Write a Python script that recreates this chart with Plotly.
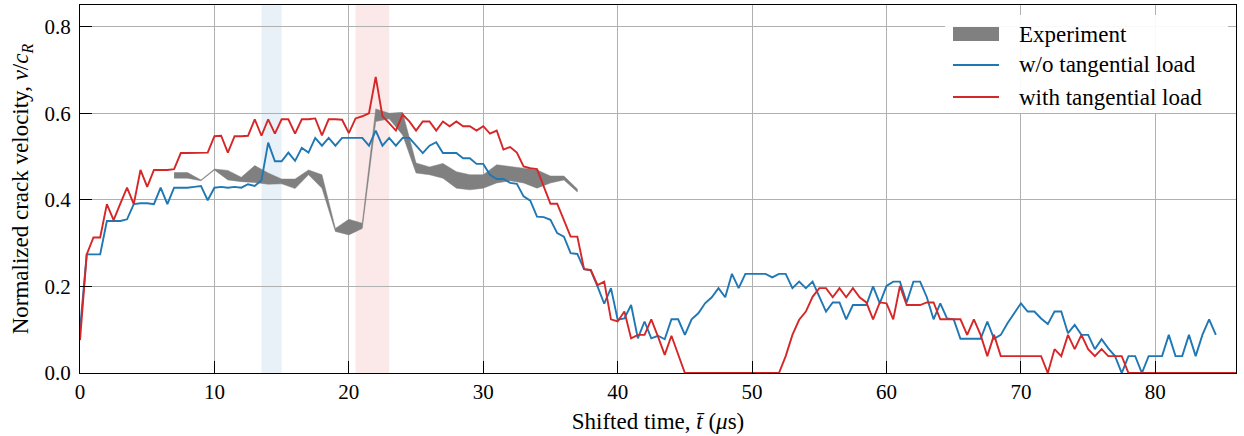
import numpy as np
import plotly.graph_objects as go

# simulation sample times (every 0.5 us)
t_red = np.arange(0, 86.01, 0.5)
t_blue = np.arange(0, 84.51, 0.5)

v_with = [
    0.076, 0.274, 0.313, 0.313, 0.390, 0.353, 0.391, 0.428, 0.390, 0.469,
    0.430, 0.469, 0.469, 0.469, 0.471, 0.508, 0.508, 0.508, 0.509, 0.509,
    0.547, 0.548, 0.509, 0.547, 0.547, 0.548, 0.586, 0.548, 0.586, 0.553,
    0.586, 0.586, 0.553, 0.586, 0.586, 0.588, 0.549, 0.586, 0.586, 0.585,
    0.554, 0.588, 0.593, 0.600, 0.684, 0.593, 0.577, 0.560, 0.597, 0.581,
    0.560, 0.581, 0.581, 0.560, 0.581, 0.570, 0.581, 0.570, 0.570, 0.560,
    0.570, 0.553, 0.560, 0.516, 0.522, 0.509, 0.477, 0.473, 0.471, 0.431,
    0.391, 0.391, 0.354, 0.315, 0.315, 0.240, 0.238, 0.203, 0.211, 0.124,
    0.119, 0.142, 0.080, 0.088, 0.088, 0.124, 0.084, 0.042, 0.086, 0.045,
    0.000, 0.000, 0.000, 0.000, 0.000, 0.000, 0.000, 0.000, 0.000, 0.000,
    0.000, 0.000, 0.000, 0.000, 0.000, 0.039, 0.088, 0.123, 0.142, 0.176,
    0.196, 0.196, 0.175, 0.196, 0.175, 0.196, 0.175, 0.163, 0.124, 0.163,
    0.161, 0.124, 0.201, 0.157, 0.157, 0.157, 0.163, 0.163, 0.124, 0.124,
    0.124, 0.124, 0.088, 0.124, 0.088, 0.039, 0.088, 0.039, 0.039, 0.039,
    0.039, 0.039, 0.039, 0.039, 0.000, 0.055, 0.039, 0.088, 0.055, 0.088,
    0.055, 0.039, 0.055, 0.039, 0.039, 0.039, 0.000, 0.000, 0.000, 0.000,
    0.000, 0.000, 0.000, 0.000, 0.000, 0.000, 0.000, 0.000, 0.000, 0.000,
    0.000, 0.000, 0.000,
]

v_without = [
    0.100, 0.274, 0.274, 0.274, 0.351, 0.351, 0.351, 0.355, 0.390, 0.392,
    0.392, 0.390, 0.428, 0.390, 0.428, 0.428, 0.428, 0.430, 0.432, 0.399,
    0.428, 0.430, 0.428, 0.430, 0.428, 0.436, 0.432, 0.445, 0.532, 0.489,
    0.489, 0.509, 0.490, 0.520, 0.509, 0.543, 0.525, 0.543, 0.525, 0.543,
    0.543, 0.543, 0.543, 0.525, 0.560, 0.525, 0.543, 0.525, 0.543, 0.543,
    0.525, 0.508, 0.525, 0.533, 0.508, 0.508, 0.508, 0.496, 0.496, 0.483,
    0.483, 0.458, 0.448, 0.448, 0.439, 0.437, 0.408, 0.398, 0.361, 0.360,
    0.354, 0.323, 0.315, 0.277, 0.275, 0.240, 0.237, 0.200, 0.160, 0.196,
    0.123, 0.126, 0.157, 0.080, 0.119, 0.080, 0.086, 0.078, 0.124, 0.124,
    0.088, 0.124, 0.138, 0.161, 0.175, 0.196, 0.175, 0.229, 0.196, 0.229,
    0.229, 0.229, 0.229, 0.221, 0.229, 0.229, 0.196, 0.211, 0.196, 0.211,
    0.176, 0.142, 0.163, 0.163, 0.124, 0.157, 0.157, 0.157, 0.200, 0.161,
    0.201, 0.211, 0.211, 0.163, 0.211, 0.211, 0.175, 0.124, 0.161, 0.126,
    0.124, 0.079, 0.079, 0.079, 0.079, 0.119, 0.079, 0.088, 0.115, 0.138,
    0.161, 0.142, 0.142, 0.126, 0.113, 0.142, 0.142, 0.092, 0.111, 0.088,
    0.088, 0.055, 0.078, 0.057, 0.039, 0.000, 0.039, 0.039, 0.000, 0.039,
    0.039, 0.039, 0.088, 0.039, 0.039, 0.088, 0.039, 0.088, 0.124, 0.088,
]

# experiment band (lower / upper bound)
exp_t = [7, 8, 9, 10, 11, 12, 13, 14, 15, 16, 17, 18, 19, 20, 21, 22, 23, 24,
         25, 26, 27, 28, 29, 30, 31, 32, 33, 34, 35, 36, 37]
exp_hi = [0.463, 0.463, 0.446, 0.471, 0.468, 0.452, 0.479, 0.462, 0.448, 0.448,
          0.469, 0.458, 0.334, 0.355, 0.346, 0.610, 0.600, 0.602, 0.485, 0.476,
          0.484, 0.465, 0.458, 0.458, 0.481, 0.477, 0.473, 0.469, 0.455, 0.455,
          0.425]
exp_lo = [0.450, 0.450, 0.444, 0.469, 0.446, 0.442, 0.440, 0.436, 0.437, 0.426,
          0.458, 0.427, 0.327, 0.319, 0.334, 0.581, 0.587, 0.550, 0.462, 0.458,
          0.450, 0.427, 0.423, 0.427, 0.439, 0.444, 0.439, 0.427, 0.439, 0.446,
          0.418]

span_blue = (13.5, 15.0)
span_red = (20.5, 23.0)

x_ticks = [0, 10, 20, 30, 40, 50, 60, 70, 80]
x_ticktext = ["0", "10", "20", "30", "40", "50", "60", "70", "80"]
y_ticks = [0.0, 0.2, 0.4, 0.6, 0.8]
y_ticktext = ["0.0", "0.2", "0.4", "0.6", "0.8"]

legend_labels = ["Experiment", "w/o tangential load", "with tangential load"]

BLUE = "#1f77b4"
RED = "#d62728"
GRAY = "#808080"
FONT = "Liberation Serif"

fig = go.Figure()

fig.add_trace(go.Scatter(
    x=list(exp_t) + list(exp_t[::-1]),
    y=list(exp_hi) + list(exp_lo[::-1]),
    fill="toself", fillcolor=GRAY, mode="lines",
    line=dict(color=GRAY, width=0.5),
    name=legend_labels[0], hoverinfo="skip", showlegend=False,
))
fig.add_trace(go.Scatter(x=t_blue, y=v_without, mode="lines",
                         line=dict(color=BLUE, width=1.9),
                         name=legend_labels[1], showlegend=False))
fig.add_trace(go.Scatter(x=t_red, y=v_with, mode="lines",
                         line=dict(color=RED, width=1.9),
                         name=legend_labels[2], showlegend=False))

fig.add_vrect(x0=span_blue[0], x1=span_blue[1], fillcolor=BLUE, opacity=0.1,
              line_width=0, layer="below")
fig.add_vrect(x0=span_red[0], x1=span_red[1], fillcolor=RED, opacity=0.1,
              line_width=0, layer="below")

# legend (drawn in paper coordinates)
fig.add_shape(type="rect", xref="paper", yref="paper", x0=0.7483, x1=0.9931,
              y0=0.7065, y1=0.9728, fillcolor="rgba(255,255,255,0.92)",
              line_width=0, layer="above")
fig.add_shape(type="rect", xref="paper", yref="paper", x0=0.7552, x1=0.795,
              y0=0.902, y1=0.940, fillcolor=GRAY, line_width=0, layer="above")
fig.add_shape(type="line", xref="paper", yref="paper", x0=0.7552, x1=0.795,
              y0=0.837, y1=0.837, line=dict(color=BLUE, width=1.9), layer="above")
fig.add_shape(type="line", xref="paper", yref="paper", x0=0.7552, x1=0.795,
              y0=0.750, y1=0.750, line=dict(color=RED, width=1.9), layer="above")
for lab, yy in zip(legend_labels, [0.921, 0.837, 0.750]):
    fig.add_annotation(text=lab, xref="paper", yref="paper", x=0.8105, y=yy,
                       xanchor="left", yanchor="middle", showarrow=False,
                       font=dict(family=FONT, size=23, color="black"))

axis_common = dict(
    showgrid=True, gridcolor="#b0b0b0", gridwidth=1,
    showline=True, linecolor="black", linewidth=1, mirror=True,
    ticks="inside", ticklen=12, tickwidth=1, tickcolor="black",
    zeroline=False,
    tickfont=dict(family=FONT, size=21, color="black"),
)

fig.update_xaxes(
    range=[0, 86], tickvals=x_ticks, ticktext=x_ticktext,
    title=dict(text="Shifted time, <i>t\u0304</i> (<i>\u03bc</i>s)",
               font=dict(family=FONT, size=23, color="black"), standoff=9),
    **axis_common,
)
fig.update_yaxes(
    range=[0, 0.85], tickvals=y_ticks, ticktext=y_ticktext,
    ticklabelstandoff=4,
    title=dict(text="Normalized crack velocity, <i>v</i>/<i>c</i><sub><i>R</i></sub>",
               font=dict(family=FONT, size=23, color="black"), standoff=9),
    **axis_common,
)

fig.update_layout(
    width=1244, height=436,
    margin=dict(l=80, r=8, t=5, b=63, autoexpand=False),
    paper_bgcolor="white", plot_bgcolor="white",
    font=dict(family=FONT, size=20, color="black"),
    showlegend=False,
)

fig.write_html("out.html", config={"displayModeBar": False},
               post_script="document.body.style.margin='0';")
